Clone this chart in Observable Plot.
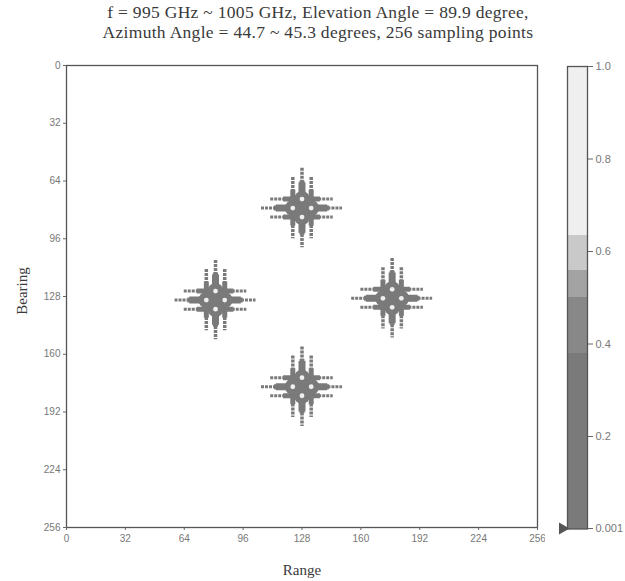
<!DOCTYPE html>
<html><head><meta charset="utf-8">
<script src="https://cdn.jsdelivr.net/npm/d3@7"></script>
<script src="https://cdn.jsdelivr.net/npm/@observablehq/plot@0.6"></script>
<style>
body{margin:0;background:#fff;}
#wrap{position:relative;width:625px;height:581px;overflow:hidden;background:#fff;}
.t{position:absolute;font-family:"Liberation Serif","Times New Roman",serif;color:#3a3a3a;white-space:nowrap;}
#main{position:absolute;left:0;top:0;}
#cbar{position:absolute;left:545px;top:0;}
</style></head><body>
<div id="wrap">
  <div class="t" style="left:18px;width:600px;top:3px;text-align:center;font-size:17.5px;letter-spacing:0.3px;line-height:19.5px">f = 995 GHz ~ 1005 GHz, Elevation Angle = 89.9 degree,<br>Azimuth Angle = 44.7 ~ 45.3 degrees, 256 sampling points</div>
  <div id="main"></div>
  <div id="cbar"></div>
  <div class="t" style="left:202px;width:200px;top:561px;text-align:center;font-size:15px;line-height:18px">Range</div>
  <div class="t" style="left:-78px;width:200px;top:282px;text-align:center;font-size:15px;line-height:18px;transform:rotate(-90deg)">Bearing</div>
</div>
<script>
// ---- data ----
const targetRange   = [128, 81, 177, 128];   // target centres (Range)
const targetBearing = [79, 130, 129, 178];   // target centres (Bearing)
const scatterOffsetRange   = [0, -5, 5, 0];  // four scatterers per target
const scatterOffsetBearing = [-5, 0, 0, 5];
const axisTicks = [0, 32, 64, 96, 128, 160, 192, 224, 256];
const levelSidelobe = 0.15, levelCore = 0.3, levelPeak = 0.9;
const colorbarTicks = [0.001, 0.2, 0.4, 0.6, 0.8, 1.0];
const colorbarTickLabels = ["0.001", "0.2", "0.4", "0.6", "0.8", "1.0"];
const binLow  = [0.0, 0.38, 0.5, 0.56, 0.635];
const binHigh = [0.38, 0.5, 0.56, 0.635, 1.0];
const grayThresholds = [0.38, 0.5, 0.56, 0.635];
const grayColors = ["#7a7a7a", "#888888", "#a3a3a3", "#c9c9c9", "#efefef"];

// ---- tables ----
const targets = targetRange.map((r, i) => ({r, b: targetBearing[i]}));
const scatterers = [];
targets.forEach(t => scatterOffsetRange.forEach((dr, j) =>
  scatterers.push({r: t.r + dr, b: t.b + scatterOffsetBearing[j]})));
const bins = binLow.map((lo, i) => ({lo, hi: binHigh[i], mid: (lo + binHigh[i]) / 2}));

const colorScale = {type: "threshold", domain: grayThresholds, range: grayColors};

const main = Plot.plot({
  width: 545, height: 581,
  marginTop: 65, marginLeft: 66, marginRight: 8, marginBottom: 54,
  style: {fontFamily: "'Liberation Sans', Arial, sans-serif", fontSize: "10px", color: "#666", background: "transparent"},
  x: {domain: [0, 256]},
  y: {domain: [0, 256], reverse: true},
  color: colorScale,
  marks: [
    // sidelobe streaks (outer, grainy)
    Plot.ruleY(scatterers, {y: "b", x1: d => d.r - 17, x2: d => d.r + 17, stroke: d => levelSidelobe, strokeWidth: 3, strokeDasharray: "3 1"}),
    Plot.ruleX(scatterers, {x: "r", y1: d => d.b - 17, y2: d => d.b + 17, stroke: d => levelSidelobe, strokeWidth: 3.5, strokeDasharray: "3 1"}),
    // inner streaks
    Plot.ruleY(scatterers, {y: "b", x1: d => d.r - 10, x2: d => d.r + 10, stroke: d => levelSidelobe, strokeWidth: 5}),
    Plot.ruleX(scatterers, {x: "r", y1: d => d.b - 10, y2: d => d.b + 10, stroke: d => levelSidelobe, strokeWidth: 5}),
    // main cross through target centres
    Plot.ruleY(targets, {y: "b", x1: d => d.r - 14, x2: d => d.r + 14, stroke: d => levelSidelobe, strokeWidth: 7}),
    Plot.ruleX(targets, {x: "r", y1: d => d.b - 14, y2: d => d.b + 14, stroke: d => levelSidelobe, strokeWidth: 7}),
    // core blobs
    Plot.dot(scatterers, {x: "r", y: "b", r: 8, fill: d => levelCore}),
    // peaks
    Plot.dot(scatterers, {x: "r", y: "b", r: 2.4, fill: d => levelPeak}),
    Plot.frame({stroke: "#555", strokeWidth: 1.3}),
    Plot.axisX({ticks: axisTicks, tickSize: 3, tickPadding: 4, label: null, fill: "#777"}),
    Plot.axisY({ticks: axisTicks, tickSize: 3, tickPadding: 3, label: null, fill: "#777"})
  ]
});
document.getElementById("main").appendChild(main);

const cbar = Plot.plot({
  width: 80, height: 581,
  marginTop: 66, marginBottom: 52.5, marginLeft: 22, marginRight: 38,
  style: {fontFamily: "'Liberation Sans', Arial, sans-serif", fontSize: "11px", color: "#666", background: "transparent"},
  x: {domain: [0, 1], axis: null},
  y: {domain: [0, 1], axis: null},
  color: colorScale,
  marks: [
    Plot.rect(bins, {x1: d => 0, x2: d => 1, y1: "lo", y2: "hi", fill: "mid", shapeRendering: "crispEdges"}),
    Plot.frame({stroke: "#555", strokeWidth: 1.3}),
    Plot.axisY({anchor: "right", ticks: colorbarTicks, tickFormat: (d) => colorbarTickLabels[colorbarTicks.indexOf(d)], tickSize: 5, tickPadding: 3, label: null, fill: "#777"}),
    Plot.dot([colorbarTicks[0]], {x: d => 0, y: d => d, symbol: "triangle", r: 4.5, rotate: 90, fill: "#555", dx: -5})
  ]
});
document.getElementById("cbar").appendChild(cbar);
</script>
</body></html>
